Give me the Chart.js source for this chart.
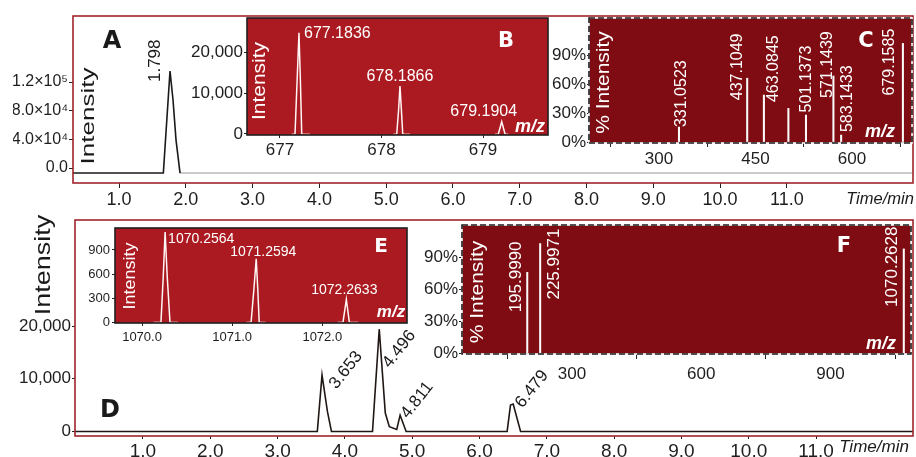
<!DOCTYPE html>
<html><head><meta charset="utf-8">
<script src="https://cdn.jsdelivr.net/npm/chart.js@4.4.1/dist/chart.umd.min.js"></script>
<style>
html,body{margin:0;padding:0;background:#fff;}
#wrap{position:relative;width:916px;height:457px;overflow:hidden;background:#fff;}
#wrap canvas{position:absolute;left:0;top:0;}
</style></head>
<body><div id="wrap">
<canvas id="cA" width="916" height="457"></canvas>
<canvas id="cB" width="916" height="457"></canvas>
<canvas id="cC" width="916" height="457"></canvas>
<canvas id="cD" width="916" height="457"></canvas>
<canvas id="cE" width="916" height="457"></canvas>
<canvas id="cF" width="916" height="457"></canvas>
</div>
<script>
// ================= DATA =================
const timeTicks = [1,2,3,4,5,6,7,8,9,10,11];
const timeTickLabels = ['1.0','2.0','3.0','4.0','5.0','6.0','7.0','8.0','9.0','10.0','11.0'];

// Panel A: chromatogram (time/min, intensity)
const chromA_time = [0.31, 1.663, 1.763, 1.808, 1.853, 1.913];
const chromA_int  = [-7000, -7000, 135300, 94900, 39000, -7000];
const chromA_tailTime = [1.913, 12.89];
const chromA_tailInt  = [-7000, -7000];
const chromA_yTicks = [0, 40000, 80000, 120000];
const chromA_yTickLabels = ['0.0', '4.0×10⁴', '8.0×10⁴', '1.2×10⁵'];
const chromA_peakLabel = '1.798';

// Panel B: isotope pattern (m/z, intensity), one list per peak
const isoB_mz = [
  [677.115, 677.148, 677.167, 677.187, 677.202, 677.214, 677.296],
  [678.116, 678.150, 678.168, 678.182, 678.196, 678.209, 678.281],
  [679.118, 679.151, 679.184, 679.217, 679.249]
];
const isoB_int = [
  [0, 0, 12000, 24700, 12000, 0, 0],
  [0, 0, 5800, 11700, 5800, 0, 0],
  [0, 0, 3000, 0, 0]
];
const isoB_labels = ['677.1836', '678.1866', '679.1904'];
const isoB_xTicks = [677, 678, 679];
const isoB_xTickLabels = ['677', '678', '679'];
const isoB_yTicks = [0, 10000, 20000];
const isoB_yTickLabels = ['0', '10,000', '20,000'];

// Panel C: MS/MS sticks (m/z, % intensity)
const msmsC_mz  = [331.0523, 437.1049, 463.0845, 501.1373, 528.5, 571.1439, 583.1433, 679.1585];
const msmsC_pct = [15.5, 66, 48.6, 34.8, 27.9, 68.3, 7.2, 102];
const msmsC_labels = ['331.0523', '437.1049', '463.0845', '501.1373', '', '571.1439', '583.1433', '679.1585'];
const msmsC_xTicks = [300, 450, 600];
const msmsC_xTickLabels = ['300', '450', '600'];
const pctTicks = [0, 30, 60, 90];
const pctTickLabels = ['0%', '30%', '60%', '90%'];

// Panel D: chromatogram (time/min, intensity)
const chromD_time = [-0.01, 3.59, 3.66, 3.74, 3.80, 4.41, 4.51, 4.60, 4.66, 4.77, 4.82, 4.91, 6.41, 6.46, 6.50, 6.61, 12.44];
const chromD_int  = [0, 0, 10700, 3800, 0, 0, 19400, 3500, 900, 400, 3100, 0, 0, 5000, 5200, 0, 0];
const chromD_peakLabels = ['3.653', '4.496', '4.811', '6.479'];
const chromD_peakIdx = [2, 6, 10, 13];
const chromD_yTicks = [0, 10000, 20000];
const chromD_yTickLabels = ['0', '10,000', '20,000'];

// Panel E: isotope pattern (m/z, intensity)
const isoE_mz = [
  [1070.126, 1070.21, 1070.235, 1070.256, 1070.28, 1070.31, 1070.40],
  [1071.16, 1071.21, 1071.24, 1071.267, 1071.285, 1071.30, 1071.37],
  [1072.17, 1072.23, 1072.267, 1072.30, 1072.40]
];
const isoE_int = [
  [0, 0, 560, 1123, 560, 0, 0],
  [0, 0, 395, 790, 395, 0, 0],
  [0, 0, 284, 0, 0]
];
const isoE_labels = ['1070.2564', '1071.2594', '1072.2633'];
const isoE_xTicks = [1070, 1071, 1072];
const isoE_xTickLabels = ['1070.0', '1071.0', '1072.0'];
const isoE_yTicks = [0, 300, 600, 900];
const isoE_yTickLabels = ['0', '300', '600', '900'];

// Panel F: MS/MS sticks (m/z, % intensity)
const msmsF_mz  = [195.9990, 225.9971, 1070.2628];
const msmsF_pct = [76, 103, 98];
const msmsF_labels = ['195.9990', '225.9971', '1070.2628'];
const msmsF_xTicks = [300, 600, 900];
const msmsF_xTickLabels = ['300', '600', '900'];

// ================= RENDERING =================
const FONT = "'Liberation Sans', Arial, Helvetica, sans-serif";
const BOLDF = "'DejaVu Sans', 'Liberation Sans', Arial, sans-serif";
const W = 916, H = 457;
Chart.defaults.font.family = FONT;

function pts(xs, ys) { return xs.map((x, i) => ({x: x, y: ys[i]})); }

function drawText(g, s, x, y, o) {
  g.save();
  g.translate(x, y);
  if (o.sx) g.scale(o.sx, 1);
  if (o.rot) g.rotate(o.rot * Math.PI / 180);
  g.font = o.font;
  g.fillStyle = o.color || '#1a1a1a';
  g.textAlign = o.align || 'center';
  g.textBaseline = o.base || 'middle';
  g.fillText(s, 0, 0);
  g.restore();
}

function axis(a, isX, xH, yW) {
  return {
    type: 'linear', min: a.min, max: a.max, offset: false,
    afterFit: s => { if (isX) s.height = xH; else s.width = yW; },
    afterBuildTicks: s => { s.ticks = a.ticks.map(v => ({value: v})); },
    grid: {drawOnChartArea: false, drawTicks: true, tickLength: a.tl, tickColor: '#222', tickWidth: 1, color: '#222'},
    border: {display: false},
    ticks: {autoSkip: false, maxRotation: 0, minRotation: 0, padding: a.pad, color: '#1e1e1e',
      font: {family: FONT, size: a.fs}, callback: (v, i) => a.labels[i]}
  };
}

function build(id, p) {
  const [L, T, R, B] = p.box;
  const yW = 60, xH = Math.min(30, H - B);
  return new Chart(document.getElementById(id), {
    type: 'line',
    data: {datasets: p.datasets},
    options: {
      responsive: false, maintainAspectRatio: false, animation: false, devicePixelRatio: 1,
      layout: {padding: {left: L - yW, top: T, right: W - R, bottom: H - B - xH}},
      plugins: {legend: {display: false}, tooltip: {enabled: false}},
      scales: {x: axis(p.x, true, xH, yW), y: axis(p.y, false, xH, yW)},
      elements: {point: {radius: 0}, line: {tension: 0}}
    },
    plugins: [{
      id: 'deco_' + id,
      beforeDraw(c) {
        const a = c.chartArea, g = c.ctx;
        if (p.bg) { g.save(); g.fillStyle = p.bg; g.fillRect(a.left, a.top, a.right - a.left, a.bottom - a.top); g.restore(); }
      },
      afterDraw(c) {
        const a = c.chartArea, g = c.ctx;
        g.save();
        if (p.dashed) {
          g.strokeStyle = '#f4f4f4'; g.lineWidth = 1.6;
          g.strokeRect(a.left, a.top, a.right - a.left, a.bottom - a.top);
          g.setLineDash([6, 3]);
        }
        g.strokeStyle = p.border; g.lineWidth = p.bw || 1.5;
        g.strokeRect(a.left, a.top, a.right - a.left, a.bottom - a.top);
        g.restore();
        p.decorate(c, a, g);
      }
    }]
  });
}

const sx = v => v; // no-op helper for readability
function px(c, x, y) { return [c.scales.x.getPixelForValue(x), c.scales.y.getPixelForValue(y)]; }
const WHITE = '#fff6f6';
const PED = 'rgba(255,235,235,0.55)';

function peakDatasets(mzs, ints) {
  return mzs.map((m, k) => ({
    data: pts(m, ints[k]), borderColor: WHITE, borderWidth: 1.5, fill: false,
    segment: {borderColor: s => (s.p0.parsed.y === 0 && s.p1.parsed.y === 0) ? PED : undefined}
  }));
}
function apexIndex(arr) { let b = 0; arr.forEach((v, i) => { if (v > arr[b]) b = i; }); return b; }

// ---------- Panel A ----------
build('cA', {
  box: [73, 16, 913, 183],
  x: {min: 0.31, max: 12.89, ticks: timeTicks, labels: timeTickLabels, tl: 5, pad: 1, fs: 18},
  y: {min: -20900, max: 212100, ticks: chromA_yTicks, labels: chromA_yTickLabels, tl: 4, pad: 1, fs: 16},
  border: '#a0252b', bw: 1.6,
  datasets: [
    {data: pts(chromA_time, chromA_int), borderColor: '#1a1a1a', borderWidth: 1.6},
    {data: pts(chromA_tailTime, chromA_tailInt), borderColor: '#b8b8b8', borderWidth: 1.6}
  ],
  decorate(c, a, g) {
    drawText(g, 'A', a.left + 39, a.top + 26, {font: 'bold 24px ' + BOLDF, color: '#1a1a1a'});
    drawText(g, 'Intensity', a.left + 15.5, a.top + 100, {font: '26px ' + FONT, rot: -90, sx: 0.72});
    drawText(g, 'Time/min', a.right - 33, a.bottom + 16, {font: 'italic 16.5px ' + FONT});
    const k = apexIndex(chromA_int);
    const [x, y] = px(c, chromA_time[k], chromA_int[k]);
    drawText(g, chromA_peakLabel, x - 15, y + 11, {font: '17px ' + FONT, rot: -90, align: 'left'});
  }
});

// ---------- Panel B ----------
build('cB', {
  box: [247, 18, 548, 135],
  x: {min: 676.675, max: 679.64, ticks: isoB_xTicks, labels: isoB_xTickLabels, tl: 3, pad: 2, fs: 17},
  y: {min: -244, max: 28300, ticks: isoB_yTicks, labels: isoB_yTickLabels, tl: 3, pad: 1, fs: 17},
  bg: '#aa1a20', border: '#1e1e1e', bw: 1.6,
  datasets: peakDatasets(isoB_mz, isoB_int),
  decorate(c, a, g) {
    drawText(g, 'B', a.left + 259, a.top + 24, {font: 'bold 21px ' + BOLDF, color: '#fff'});
    drawText(g, 'm/z', a.left + 283, a.top + 109, {font: 'bold italic 18px ' + FONT, color: '#fff'});
    drawText(g, 'Intensity', a.left + 13, a.top + 63, {font: '21px ' + FONT, rot: -90, sx: 0.85, color: '#fff'});
    const offs = [[5, 1, 'left'], [0, -9, 'center'], [-18, -10, 'center']];
    isoB_labels.forEach((t, k) => {
      const i = apexIndex(isoB_int[k]);
      const [x, y] = px(c, isoB_mz[k][i], isoB_int[k][i]);
      drawText(g, t, x + offs[k][0], y + offs[k][1], {font: '16px ' + FONT, color: '#fff', align: offs[k][2]});
    });
  }
});

// ---------- Panel C ----------
build('cC', {
  box: [589, 18, 912, 143],
  x: {min: 191.2, max: 693.3, ticks: msmsC_xTicks, labels: msmsC_xTickLabels, tl: 4, pad: 2, fs: 17},
  y: {min: -1, max: 128.3, ticks: pctTicks, labels: pctTickLabels, tl: 2, pad: 1, fs: 17},
  bg: '#7e0c12', border: '#1e1e1e', bw: 1.6, dashed: true,
  datasets: [{type: 'bar', data: pts(msmsC_mz, msmsC_pct), backgroundColor: '#fafafa', borderWidth: 0, barThickness: 1.4, grouped: false}],
  decorate(c, a, g) {
    drawText(g, 'C', a.left + 277, a.top + 24, {font: 'bold 21px ' + BOLDF, color: '#fff'});
    drawText(g, 'm/z', a.left + 291, a.top + 114, {font: 'bold italic 18px ' + FONT, color: '#fff'});
    drawText(g, '% Intensity', a.left + 15, a.top + 64.5, {font: '21px ' + FONT, rot: -90, sx: 0.9, color: '#fff'});
    const offs = [[3, 0], [-10, 22], [10, 7], [18, 4], [0, 0], [-6, 22], [6, -3], [-13, 52]];
    msmsC_labels.forEach((t, k) => {
      if (!t) return;
      const [x, y] = px(c, msmsC_mz[k], msmsC_pct[k]);
      drawText(g, t, x + offs[k][0], y + offs[k][1], {font: '16px ' + FONT, rot: -90, align: 'left', color: '#fff'});
    });
  }
});

// ---------- Panel D ----------
build('cD', {
  box: [75, 220, 913, 436],
  x: {min: -0.01, max: 12.44, ticks: timeTicks, labels: timeTickLabels, tl: 3, pad: 1, fs: 19},
  y: {min: -853, max: 40100, ticks: chromD_yTicks, labels: chromD_yTickLabels, tl: 3, pad: 1, fs: 17},
  border: '#a0252b', bw: 1.6,
  datasets: [{data: pts(chromD_time, chromD_int), borderColor: '#1f1714', borderWidth: 1.6}],
  decorate(c, a, g) {
    drawText(g, 'D', a.left + 35, a.top + 191, {font: 'bold 24px ' + BOLDF, color: '#1a1a1a'});
    drawText(g, 'Intensity', a.left - 31, a.top + 45, {font: '27px ' + FONT, rot: -90, sx: 0.85});
    drawText(g, 'Time/min', a.right - 39, a.bottom + 11, {font: 'italic 17px ' + FONT});
    const offs = [[24, -5], [20, 20], [17, -15], [21.5, -16]];
    chromD_peakLabels.forEach((t, k) => {
      const i = chromD_peakIdx[k];
      const [x, y] = px(c, chromD_time[i], chromD_int[i]);
      drawText(g, t, x + offs[k][0], y + offs[k][1], {font: '17px ' + FONT, rot: -52});
    });
  }
});

// ---------- Panel E ----------
build('cE', {
  box: [115, 228, 407, 323],
  x: {min: 1069.7, max: 1072.94, ticks: isoE_xTicks, labels: isoE_xTickLabels, tl: 3, pad: 4, fs: 13},
  y: {min: -10, max: 1173, ticks: isoE_yTicks, labels: isoE_yTickLabels, tl: 3, pad: 2, fs: 13},
  bg: '#aa1a20', border: '#1e1e1e', bw: 1.6,
  datasets: peakDatasets(isoE_mz, isoE_int),
  decorate(c, a, g) {
    drawText(g, 'E', a.left + 266, a.top + 19, {font: 'bold 20px ' + BOLDF, color: '#fff'});
    drawText(g, 'm/z', a.left + 276, a.top + 84, {font: 'bold italic 17px ' + FONT, color: '#fff'});
    drawText(g, 'Intensity', a.left + 16, a.top + 48, {font: '18px ' + FONT, rot: -90, sx: 0.88, color: '#fff'});
    const offs = [[3, 7, 'left'], [7, -7, 'center'], [-2, -9, 'center']];
    isoE_labels.forEach((t, k) => {
      const i = apexIndex(isoE_int[k]);
      const [x, y] = px(c, isoE_mz[k][i], isoE_int[k][i]);
      drawText(g, t, x + offs[k][0], y + offs[k][1], {font: '14px ' + FONT, color: '#fff', align: offs[k][2]});
    });
  }
});

// ---------- Panel F ----------
build('cF', {
  box: [462, 225, 911, 354],
  x: {min: 44.5, max: 1087, ticks: msmsF_xTicks, labels: msmsF_xTickLabels, tl: 5, pad: 5, fs: 17},
  y: {min: -0.5, max: 120.4, ticks: pctTicks, labels: pctTickLabels, tl: 3, pad: 1, fs: 17},
  bg: '#7e0c12', border: '#1e1e1e', bw: 1.6, dashed: true,
  datasets: [{type: 'bar', data: pts(msmsF_mz, msmsF_pct), backgroundColor: '#fafafa', borderWidth: 0, barThickness: 1.4, grouped: false}],
  decorate(c, a, g) {
    drawText(g, 'F', a.left + 382, a.top + 22, {font: 'bold 21px ' + BOLDF, color: '#fff'});
    drawText(g, 'm/z', a.left + 419, a.top + 119, {font: 'bold italic 18px ' + FONT, color: '#fff'});
    drawText(g, '% Intensity', a.left + 16, a.top + 67, {font: '21px ' + FONT, rot: -90, sx: 0.9, color: '#fff'});
    const offs = [[-10.5, 40], [14.5, 56], [-11, 58]];
    msmsF_labels.forEach((t, k) => {
      const [x, y] = px(c, msmsF_mz[k], msmsF_pct[k]);
      drawText(g, t, x + offs[k][0], y + offs[k][1], {font: '17px ' + FONT, rot: -90, align: 'left', color: '#fff'});
    });
  }
});
</script>
</body></html>
